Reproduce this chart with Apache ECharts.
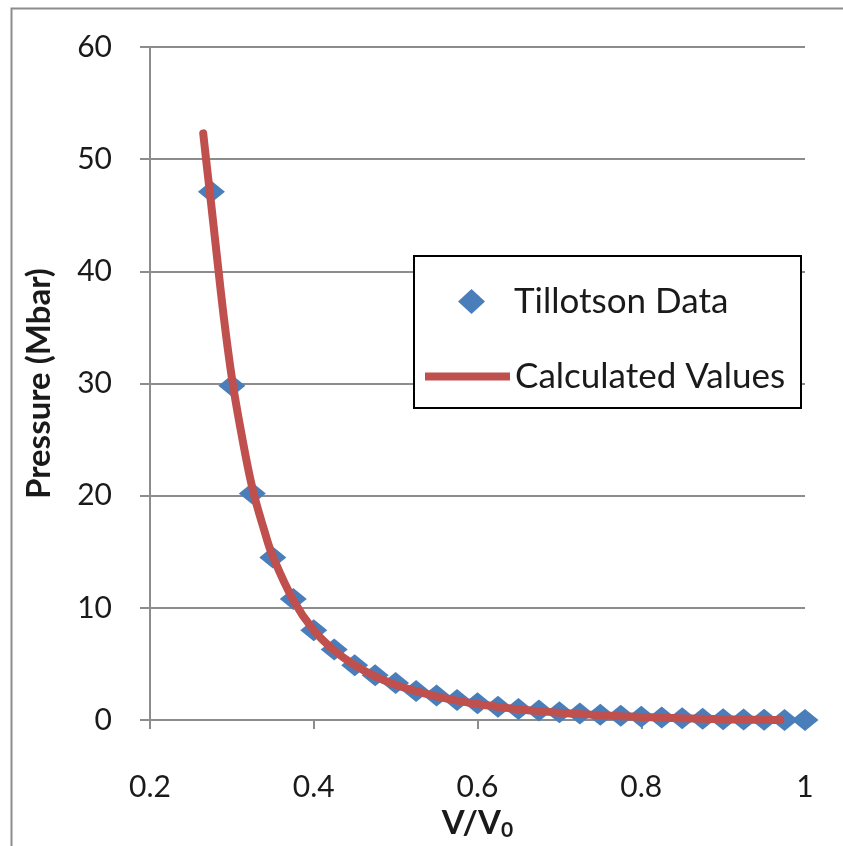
<!DOCTYPE html>
<html>
<head>
<meta charset="utf-8">
<script src="https://cdn.jsdelivr.net/npm/echarts@6/dist/echarts.min.js"></script>
<style>html,body{margin:0;padding:0;background:#fff;}#c{width:843px;height:846px;}</style>
</head>
<body>
<div id="c"></div>
<script>
// Tillotson data (V/V0, Pressure Mbar)
const tillotsonX = [0.275,0.3,0.325,0.35,0.375,0.4,0.425,0.45,0.475,0.5,0.525,0.55,0.575,0.6,0.625,0.65,0.675,0.7,0.725,0.75,0.775,0.8,0.825,0.85,0.875,0.9,0.925,0.95,0.975,1.0];
const tillotsonY = [47.1,29.8,20.2,14.5,10.8,8.0,6.3,4.9,4.0,3.3,2.6,2.2,1.8,1.5,1.2,1.0,0.85,0.7,0.58,0.47,0.38,0.3,0.23,0.17,0.12,0.08,0.05,0.03,0.01,0.0];
// Calculated values curve
const calcX = [0.265,0.27,0.275,0.28,0.29,0.3,0.31,0.325,0.34,0.35,0.375,0.4,0.425,0.45,0.475,0.5,0.525,0.55,0.575,0.6,0.625,0.65,0.675,0.7,0.725,0.75,0.775,0.8,0.825,0.85,0.875,0.9,0.925,0.95,0.97];
const calcY = [52.3,49.0,45.8,42.5,36.0,30.5,26.2,20.7,16.8,14.6,10.7,8.0,6.2,4.9,3.9,3.15,2.58,2.12,1.74,1.43,1.18,0.97,0.8,0.66,0.54,0.44,0.35,0.28,0.22,0.16,0.12,0.08,0.05,0.02,0.0];
const xTicks = [0.2,0.4,0.6,0.8,1];
const yTicks = [0,10,20,30,40,50,60];

const FONT = 'Lato, "Open Sans", "Liberation Sans", sans-serif';
const TXT = '#1a1a1a';
const chart = echarts.init(document.getElementById('c'), null, {renderer:'canvas'});
const pairs = (xs, ys) => xs.map((x,i)=>[x, ys[i]]);

chart.setOption({
  animation: false,
  backgroundColor: '#fff',
  textStyle: {fontFamily: FONT},
  grid: {left:150, right:38, top:47, bottom:114, containLabel:false},
  graphic: [
    {type:'rect', left:9, top:6, shape:{width:850, height:850}, style:{fill:'none', stroke:'#8c8c8c', lineWidth:2}, z:-1},
    {type:'rect', left:413, top:255, shape:{width:387, height:152}, style:{fill:'#fff', stroke:'#000', lineWidth:2}, z:50}
  ],
  xAxis: {
    type:'value', min:xTicks[0], max:xTicks[xTicks.length-1], interval:0.2,
    name:'{a|V/V}{b|0}', nameLocation:'middle', nameGap:84,
    nameTextStyle:{rich:{a:{fontSize:33, fontWeight:'bold', color:TXT, fontFamily:FONT}, b:{fontSize:21, fontWeight:'bold', color:TXT, fontFamily:FONT, verticalAlign:'bottom', padding:[14,0,0,0]}}},
    axisLine:{show:true, lineStyle:{color:'#8c8c8c', width:2}},
    axisTick:{show:true, length:9, lineStyle:{color:'#8c8c8c', width:2}},
    axisLabel:{fontSize:30, color:TXT, margin:52, fontFamily:FONT},
    splitLine:{show:false}
  },
  yAxis: {
    type:'value', min:yTicks[0], max:yTicks[yTicks.length-1], interval:10,
    name:'Pressure (Mbar)', nameLocation:'middle', nameGap:94, nameRotate:90,
    nameTextStyle:{fontSize:33, fontWeight:'bold', color:TXT, fontFamily:FONT},
    axisLine:{show:true, lineStyle:{color:'#8c8c8c', width:2}},
    axisTick:{show:true, length:10, lineStyle:{color:'#8c8c8c', width:2}},
    axisLabel:{fontSize:30, color:TXT, margin:38, fontFamily:FONT},
    splitLine:{show:true, lineStyle:{color:'#8c8c8c', width:2}}
  },
  legend: [
    {data:[{name:'Tillotson Data', icon:'diamond'}], left:453, top:279, itemWidth:27, itemHeight:25, itemGap:0,
     textStyle:{fontSize:35, color:TXT, padding:[0,0,0,24], fontFamily:FONT}, z:60, selectedMode:false},
    {data:[{name:'Calculated Values', icon:'rect'}], left:420, top:354, itemWidth:85, itemHeight:8, itemGap:0,
     textStyle:{fontSize:35, color:TXT, padding:[0,0,0,0], fontFamily:FONT}, z:60, selectedMode:false}
  ],
  series: [
    {name:'Tillotson Data', type:'scatter', symbol:'diamond', symbolSize:[27,22],
     itemStyle:{color:'#4A7EBB', opacity:1}, data: pairs(tillotsonX, tillotsonY), z:2},
    {name:'Calculated Values', type:'line', smooth:0.4, showSymbol:false, symbol:'none',
     lineStyle:{color:'#C0504D', width:8, cap:'round'}, itemStyle:{color:'#C0504D'},
     data: pairs(calcX, calcY), z:3}
  ]
});
</script>
</body>
</html>
